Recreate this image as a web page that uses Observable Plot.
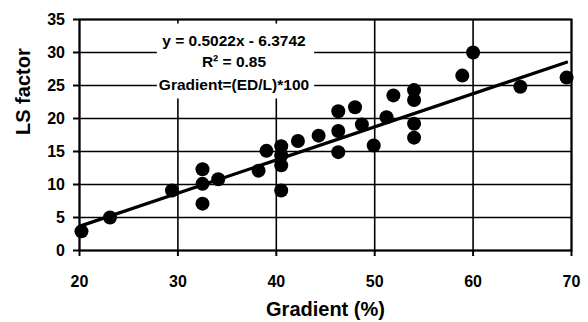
<!DOCTYPE html>
<html>
<head>
<meta charset="utf-8">
<script src="https://cdn.jsdelivr.net/npm/d3@7"></script>
<script src="https://cdn.jsdelivr.net/npm/@observablehq/plot@0.6"></script>
<style>
  html, body { margin: 0; padding: 0; background: #fff; }
  #chart { width: 588px; height: 322px; }
</style>
</head>
<body>
<div id="chart"></div>
<script>
// ---- data ----
const gradient = [20.2, 23.1, 29.4, 32.5, 32.5, 32.5, 34.1, 38.2, 39.0, 40.5, 40.5, 40.5, 40.5, 42.2, 44.3, 46.3, 46.3, 46.3, 48.0, 48.7, 49.9, 51.2, 51.9, 54.0, 54.0, 54.0, 54.0, 58.9, 60.0, 64.8, 69.5];
const lsFactor = [2.9, 5.0, 9.1, 12.3, 10.1, 7.1, 10.8, 12.1, 15.1, 15.8, 14.4, 12.9, 9.1, 16.6, 17.4, 21.1, 18.1, 14.9, 21.7, 19.1, 15.9, 20.2, 23.5, 24.3, 22.8, 19.2, 17.1, 26.5, 30.0, 24.8, 26.2];
const xTicks = [20, 30, 40, 50, 60, 70];
const yTicks = [0, 5, 10, 15, 20, 25, 30, 35];
// trendline as printed on the chart: y = 0.5022x - 6.3742
const slope = 0.5022, intercept = -6.3742;
const annotationLines = ["y = 0.5022x - 6.3742", "R\u00B2 = 0.85", "Gradient=(ED/L)*100"];
const annotationX = [35.7, 35.7, 35.7];
const annotationY = [31.8, 28.5, 25.0];
const xLabel = "Gradient (%)";
const yLabel = "LS factor";

const points = gradient.map((g, i) => ({g, ls: lsFactor[i]}));
const trend = d3.extent(gradient).map(g => ({g, ls: slope * g + intercept}));
const annotation = annotationLines.map((t, i) => ({t, x: annotationX[i], y: annotationY[i]}));

const font = "'Liberation Sans', Arial, sans-serif";

const plot = Plot.plot({
  width: 588,
  height: 322,
  marginLeft: 79,
  marginRight: 17,
  marginTop: 19,
  marginBottom: 72,
  style: {fontFamily: font, fontSize: "16px", fontWeight: "bold", background: "#fff", color: "#000"},
  x: {domain: [20, 70], nice: false},
  y: {domain: [0, 35], nice: false},
  marks: [
    Plot.gridX(xTicks, {stroke: "#000", strokeOpacity: 1, strokeWidth: 1.6}),
    Plot.gridY(yTicks, {stroke: "#000", strokeOpacity: 1, strokeWidth: 1.6}),
    Plot.text(annotation, {x: "x", y: "y", text: "t", fontSize: 15.5, fontWeight: "bold", fill: "#000"}),
    Plot.frame({stroke: "#000", strokeWidth: 2}),
    Plot.axisX({ticks: xTicks, tickSize: 6, tickPadding: 19.5, strokeWidth: 2, label: null, tickFormat: d => String(d)}),
    Plot.axisY({ticks: yTicks, tickSize: 6, strokeWidth: 2, label: null, text: null}),
    Plot.text(yTicks, {y: d => d, text: d => String(d), frameAnchor: "left", textAnchor: "end", dx: -14.5, fontSize: 16, fontWeight: "bold", fill: "#000"}),
    Plot.text([xLabel], {text: d => d, frameAnchor: "bottom", dy: 65, fontSize: 20, fontWeight: "bold", fill: "#000"}),
    Plot.text([yLabel], {text: d => d, frameAnchor: "left", dx: -56, rotate: -90, fontSize: 20, fontWeight: "bold", fill: "#000"}),
    Plot.line(trend, {x: "g", y: "ls", stroke: "#000", strokeWidth: 3.2}),
    Plot.dot(points, {x: "g", y: "ls", r: 7, fill: "#000", stroke: "none"})
  ]
});

document.getElementById("chart").appendChild(plot);

// white background box behind the annotation text (covers the grid like the original text box)
const annoTexts = Array.from(plot.querySelectorAll("text")).filter(t => annotationLines.includes(t.textContent));
if (annoTexts.length) {
  const sr = plot.getBoundingClientRect();
  let x0 = Infinity, y0 = Infinity, x1 = -Infinity, y1 = -Infinity;
  for (const t of annoTexts) {
    const b = t.getBoundingClientRect();
    x0 = Math.min(x0, b.left - sr.left); y0 = Math.min(y0, b.top - sr.top);
    x1 = Math.max(x1, b.right - sr.left); y1 = Math.max(y1, b.bottom - sr.top);
  }
  const group = annoTexts[0].parentNode;
  const rect = document.createElementNS("http://www.w3.org/2000/svg", "rect");
  rect.setAttribute("x", x0 - 2);
  rect.setAttribute("y", y0 - 8);
  rect.setAttribute("width", x1 - x0 + 7);
  rect.setAttribute("height", y1 - y0 + 13);
  rect.setAttribute("fill", "#fff");
  rect.setAttribute("stroke", "none");
  group.parentNode.insertBefore(rect, group);
}
</script>
</body>
</html>
